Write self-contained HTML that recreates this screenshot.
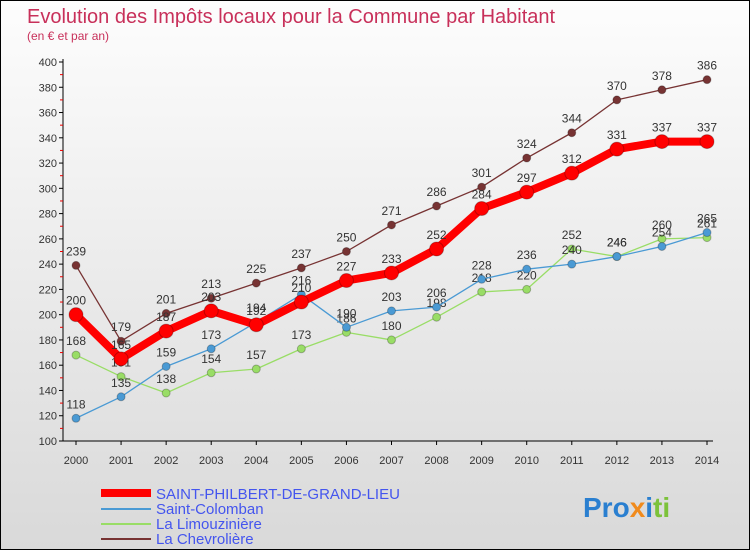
<!DOCTYPE html>
<html><head><meta charset="utf-8"><style>
html,body{margin:0;padding:0}
body{width:750px;height:550px;overflow:hidden;font-family:"Liberation Sans","DejaVu Sans",sans-serif}
#wrap{position:relative;width:748px;height:548px;border:1px solid #000;background:linear-gradient(#fdfdfd,#d9d9d9)}
</style></head><body>
<div id="wrap">
<svg id="chart" width="748" height="548" xmlns="http://www.w3.org/2000/svg">
<text x="26" y="22" font-size="20" fill="#c8305a">Evolution des Impôts locaux pour la Commune par Habitant</text>
<text x="26" y="39" font-size="12" fill="#c8305a">(en € et par an)</text>
<g id="axes"></g><g id="series"></g>
<g>
<line x1="100" y1="492" x2="150" y2="492" stroke="#f00" stroke-width="8"/>
<text x="155" y="498" font-size="15" fill="#4455ee">SAINT-PHILBERT-DE-GRAND-LIEU</text>
<line x1="100" y1="508" x2="150" y2="508" stroke="#4a9ad4" stroke-width="2"/>
<text x="155" y="513" font-size="15" fill="#4455ee">Saint-Colomban</text>
<line x1="100" y1="523" x2="150" y2="523" stroke="#99dd66" stroke-width="2"/>
<text x="155" y="528" font-size="15" fill="#4455ee">La Limouzinière</text>
<line x1="100" y1="538" x2="150" y2="538" stroke="#773333" stroke-width="2"/>
<text x="155" y="543" font-size="15" fill="#4455ee">La Chevrolière</text>
</g>
<text x="582" y="516" font-size="28" font-weight="bold"><tspan fill="#2a7fd0">Pro</tspan><tspan fill="#f08a1c">x</tspan><tspan fill="#2a7fd0">i</tspan><tspan fill="#7cc23a">ti</tspan></text>
</svg></div>
<script>
const years=[2000,2001,2002,2003,2004,2005,2006,2007,2008,2009,2010,2011,2012,2013,2014];
const yTicks=[100,120,140,160,180,200,220,240,260,280,300,320,340,360,380,400];
const philbert=[200,165,187,203,192,210,227,233,252,284,297,312,331,337,337];
const colomban=[118,135,159,173,194,216,190,203,206,228,236,240,246,254,265];
const limouz=[168,151,138,154,157,173,186,180,198,218,220,252,246,260,261];
const chevro=[239,179,201,213,225,237,250,271,286,301,324,344,370,378,386];
const NS="http://www.w3.org/2000/svg";
function xs(i){return 75+i*(706-75)/(years.length-1);}
function ys(v){return 440-(v-100)*(440-61)/300;}
function mk(t,a,p){const e=document.createElementNS(NS,t);for(const k in a)e.setAttribute(k,a[k]);p.appendChild(e);return e;}
const ax=document.getElementById('axes');
let l=mk('line',{x1:62,y1:58,x2:62,y2:440,stroke:'#000'},ax);


l=mk('line',{x1:62,y1:440,x2:712,y2:440,stroke:'#000'},ax);


yTicks.forEach((v,i)=>{
 mk('line',{x1:58,y1:ys(v),x2:62,y2:ys(v),stroke:'#000'},ax);
 if(i<yTicks.length-1)mk('line',{x1:59,y1:ys(v+10),x2:62,y2:ys(v+10),stroke:'#e00'},ax);
 const t=mk('text',{x:56,y:ys(v)+4,'font-size':11,fill:'#333','text-anchor':'end'},ax);t.textContent=v;
 
 
});
years.forEach((y,i)=>{
 mk('line',{x1:xs(i),y1:440,x2:xs(i),y2:444,stroke:'#000'},ax);
 const t=mk('text',{x:xs(i),y:463,'font-size':11,fill:'#333','text-anchor':'middle'},ax);t.textContent=y;
 
 
});
const sg=document.getElementById('series');
function draw(data,color,w,r,name){
 const g=mk('g',{},sg);
 
 
 mk('polyline',{points:data.map((v,i)=>xs(i)+','+ys(v)).join(' '),fill:'none',stroke:color,'stroke-width':w,'stroke-linejoin':'round'},g);
 data.forEach((v,i)=>{
  const c=mk('circle',{cx:xs(i),cy:ys(v),r:r,fill:color,stroke:'rgba(0,0,0,0.25)','stroke-width':1},g);
  
  
  const t=mk('text',{x:xs(i),y:ys(v)-10,'font-size':12,fill:'#333','text-anchor':'middle'},g);t.textContent=v;
  
  
 });
}
draw(chevro,'#773333',1.3,4,'series-la-chevroliere');
draw(limouz,'#99dd66',1.3,4,'series-la-limouziniere');
draw(colomban,'#4a9ad4',1.3,4,'series-saint-colomban');
draw(philbert,'#f00',8,7,'series-saint-philbert');
</script>
</body></html>
